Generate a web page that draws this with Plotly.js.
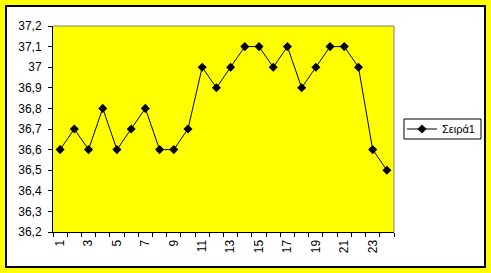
<!DOCTYPE html>
<html>
<head>
<meta charset="utf-8">
<script src="https://cdn.plot.ly/plotly-3.0.1.min.js"></script>
<style>
html,body{margin:0;padding:0;background:#FFFF00;width:491px;height:273px;overflow:hidden;}
#frame{position:absolute;left:5px;top:5px;width:477px;height:259px;border:2px solid #000;background:#fff;}
#chart{width:477px;height:259px;}
</style>
</head>
<body>
<div id="frame"><div id="chart"></div></div>
<script>
var categories = [1,2,3,4,5,6,7,8,9,10,11,12,13,14,15,16,17,18,19,20,21,22,23,24];
var values = [36.6,36.7,36.6,36.8,36.6,36.7,36.8,36.6,36.6,36.7,37.0,36.9,37.0,37.1,37.1,37.0,37.1,36.9,37.0,37.1,37.1,37.0,36.6,36.5];
var seriesName = 'Σειρά1';
var xTickVals = [1,3,5,7,9,11,13,15,17,19,21,23];
var xTickText = ['1','3','5','7','9','11','13','15','17','19','21','23'];
var yTickVals = [36.2,36.3,36.4,36.5,36.6,36.7,36.8,36.9,37.0,37.1,37.2];
var yTickText = ['36,2','36,3','36,4','36,5','36,6','36,7','36,8','36,9','37','37,1','37,2'];

var trace = {
  x: categories, y: values, name: seriesName, type: 'scatter', mode: 'lines+markers',
  line: {color: '#000000', width: 1},
  marker: {symbol: 'diamond', size: 7, color: '#000000'},
  showlegend: true
};
var layout = {
  width: 477, height: 259,
  margin: {l: 46, r: 90, t: 19, b: 34, autoexpand: false},
  paper_bgcolor: '#ffffff', plot_bgcolor: '#FFFF00',
  font: {family: 'Arial, Liberation Sans, sans-serif', size: 12, color: '#000'},
  showlegend: true,
  xaxis: {
    range: [0.5, 24.5], tickmode: 'array', tickvals: xTickVals, ticktext: xTickText,
    tickangle: -90, ticks: '', showgrid: false, zeroline: false,
    showline: true, linecolor: '#000', linewidth: 1,
    minor: {ticks: 'outside', tick0: 0.5, dtick: 1, ticklen: 4, tickcolor: '#000', showgrid: false},
    ticklabelstandoff: 2, fixedrange: true
  },
  yaxis: {
    range: [36.2, 37.2], tickmode: 'array', tickvals: yTickVals, ticktext: yTickText,
    ticks: 'outside', ticklen: 4, tickcolor: '#000', showgrid: false, zeroline: false,
    showline: true, linecolor: '#000', linewidth: 1, ticklabelstandoff: 4, fixedrange: true
  },
  shapes: [
    {type: 'line', xref: 'paper', yref: 'paper', x0: 0, x1: 1, y0: 1, y1: 1, line: {color: '#808080', width: 1}},
    {type: 'line', xref: 'paper', yref: 'paper', x0: 1, x1: 1, y0: 0, y1: 1, line: {color: '#808080', width: 1}},
    {type: 'rect', xref: 'paper', yref: 'paper', x0: 1.0293, x1: 1.2551, y0: 0.4515, y1: 0.5485, line: {color: '#000', width: 1}, fillcolor: 'rgba(0,0,0,0)'}
  ],
  legend: {
    x: 1.0235, y: 0.5, xanchor: 'left', yanchor: 'middle',
    borderwidth: 0, bgcolor: 'rgba(0,0,0,0)',
    font: {size: 11}, itemwidth: 30, tracegroupgap: 0
  }
};
Plotly.newPlot('chart', [trace], layout, {displayModeBar: false, staticPlot: true});
</script>
</body>
</html>
